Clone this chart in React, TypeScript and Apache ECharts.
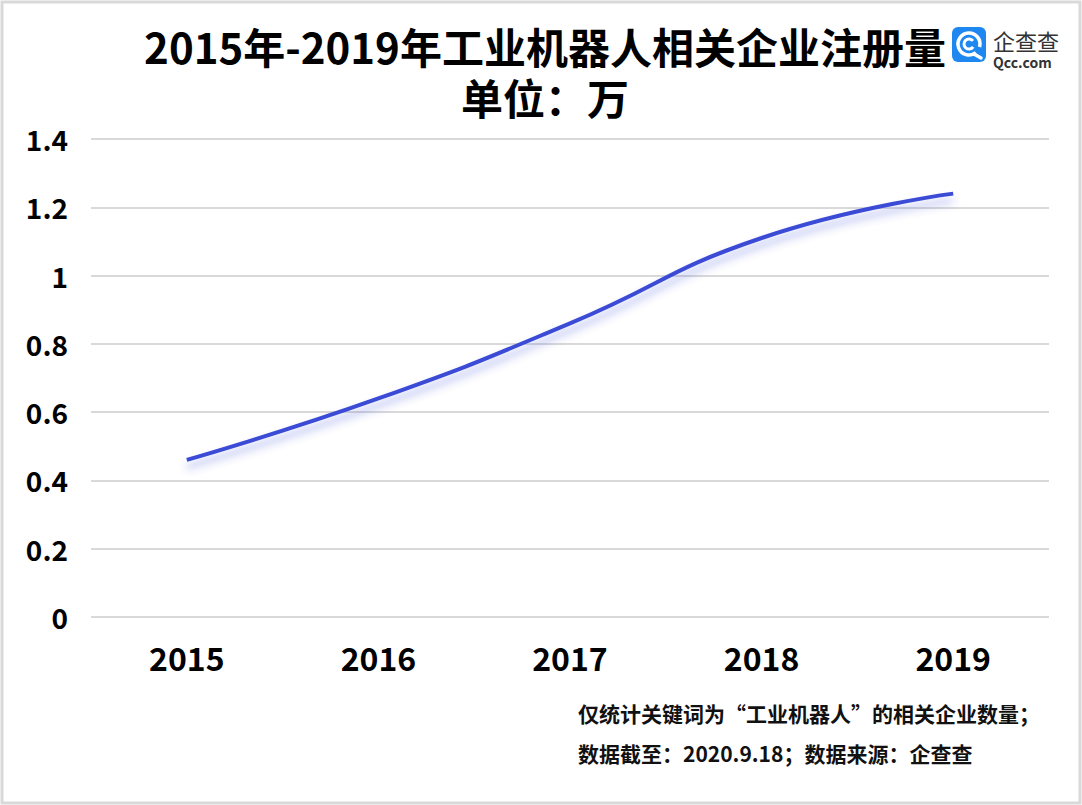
import React, { useEffect, useRef } from "react";
import * as echarts from "echarts";

const years = ["2015", "2016", "2017", "2018", "2019"];
const counts = [0.46, 0.64, 0.86, 1.11, 1.24];
const yTicks = { min: 0, max: 1.4, interval: 0.2 };
const titleText = "2015年-2019年工业机器人相关企业注册量";
const unitText = "单位：万";
const noteLines = ["仅统计关键词为“工业机器人”的相关企业数量；", "数据截至：2020.9.18；数据来源：企查查"];
const logoName = "企查查";
const logoDomain = "Qcc.com";

const FONT = '"Noto Sans CJK SC", "Noto Sans", sans-serif';

export default function App() {
  const ref = useRef<HTMLDivElement>(null);
  useEffect(() => {
    document.body.style.margin = "0";
    const chart = echarts.init(ref.current!, null, { renderer: "svg" });
    chart.setOption({
      animation: false,
      backgroundColor: "#ffffff",
      textStyle: { fontFamily: FONT },
      title: [
        {
          text: titleText,
          left: 540,
          top: 18,
          textAlign: "center",
          textStyle: { fontFamily: FONT, fontSize: 42, lineHeight: 44, fontWeight: "bold", color: "#000" },
        },
        {
          text: unitText,
          left: 540,
          top: 70,
          textAlign: "center",
          textStyle: { fontFamily: FONT, fontSize: 42, lineHeight: 42, fontWeight: "bold", color: "#000" },
        },
      ],
      grid: { left: 91, right: 33, top: 139, bottom: 188, containLabel: false },
      xAxis: {
        type: "category",
        data: years,
        boundaryGap: true,
        axisLine: { show: false },
        axisTick: { show: false },
        axisLabel: { margin: 24, fontFamily: FONT, fontSize: 32, fontWeight: "bold", color: "#000" },
        splitLine: { show: false },
      },
      yAxis: {
        type: "value",
        min: yTicks.min,
        max: yTicks.max,
        interval: yTicks.interval,
        axisLine: { show: false },
        axisTick: { show: false },
        axisLabel: { margin: 23, fontFamily: FONT, fontSize: 28, fontWeight: "bold", color: "#000" },
        splitLine: { show: true, lineStyle: { color: "#d9d9d9", width: 2 } },
      },
      series: [
        {
          type: "line",
          data: counts,
          smooth: 0.5,
          symbol: "none",
          lineStyle: {
            color: "#3a4bd6",
            width: 4,
            shadowColor: "rgba(58,75,214,0.4)",
            shadowBlur: 9,
            shadowOffsetY: 7,
          },
        },
      ],
      graphic: [
        {
          type: "rect",
          shape: { x: 2, y: 2, width: 1078, height: 801 },
          style: { fill: "none", stroke: "#d9d9d9", lineWidth: 3 },
          silent: true,
        },
        {
          type: "group",
          left: 952,
          top: 27,
          children: [
            { type: "rect", shape: { x: 0, y: 0, width: 34, height: 35, r: 6 }, style: { fill: "#1e88f0" } },
            { type: "arc", shape: { cx: 17, cy: 17, r: 11, startAngle: 0.9, endAngle: 0.9 + Math.PI * 1.8 }, style: { stroke: "#fff", lineWidth: 3.5, fill: "none" } },
            { type: "arc", shape: { cx: 17, cy: 17, r: 5, startAngle: 0.6, endAngle: 0.6 + Math.PI * 1.6 }, style: { stroke: "#fff", lineWidth: 3, fill: "none" } },
            { type: "line", shape: { x1: 22, y1: 27, x2: 29, y2: 31 }, style: { stroke: "#fff", lineWidth: 3.5, lineCap: "round" } },
            { type: "text", x: 41, y: 1, style: { text: logoName, fontFamily: FONT, fontSize: 22, lineHeight: 24, fill: "#333", fontWeight: "normal" } },
            { type: "text", x: 41, y: 28, style: { text: logoDomain, fontFamily: FONT, fontSize: 14, lineHeight: 14, fill: "#333", fontWeight: "bold" } },
          ],
        },
        {
          type: "text",
          left: 578,
          top: 702,
          style: { text: noteLines[0], fontFamily: FONT, fontSize: 21, fontWeight: "bold", fill: "#111" },
        },
        {
          type: "text",
          left: 578,
          top: 742,
          style: { text: noteLines[1], fontFamily: FONT, fontSize: 21, fontWeight: "bold", fill: "#111" },
        },
      ],
    });
    return () => chart.dispose();
  }, []);
  return <div ref={ref} style={{ width: 1082, height: 805 }} />;
}
